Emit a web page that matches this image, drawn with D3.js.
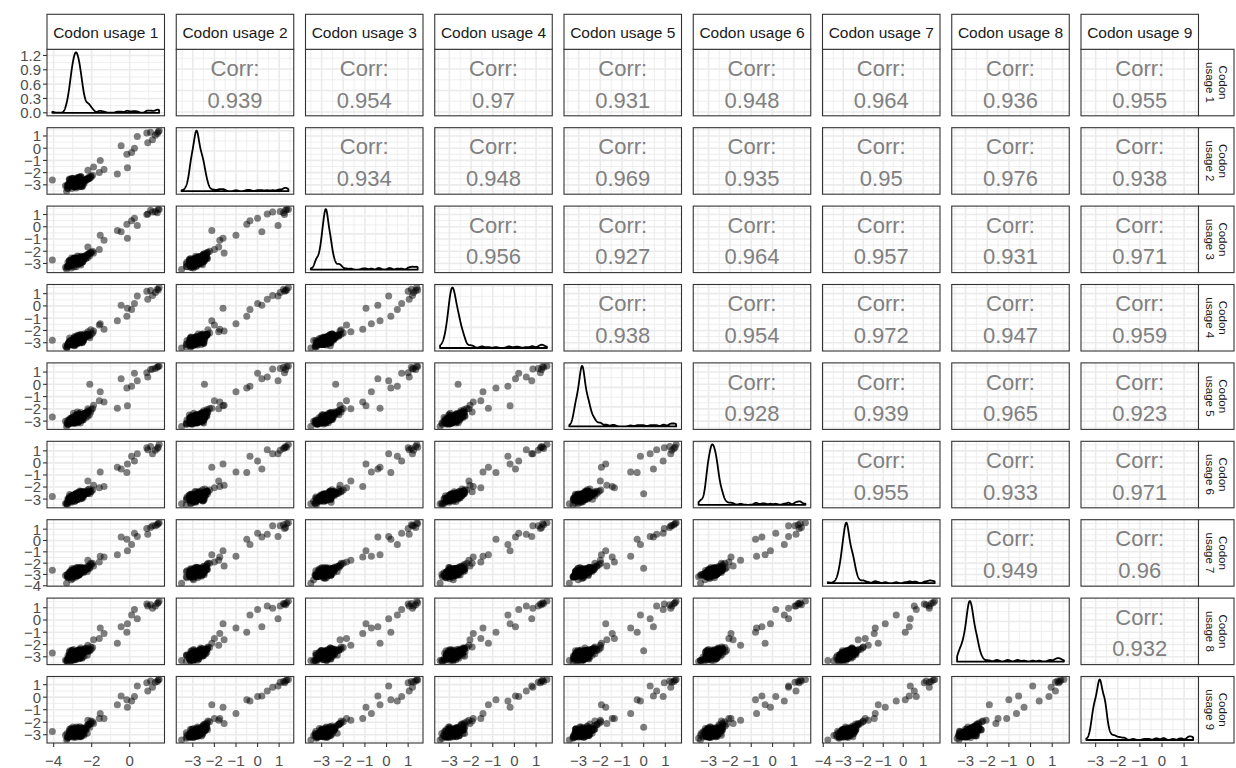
<!DOCTYPE html>
<html>
<head>
<meta charset="utf-8">
<script src="https://cdn.jsdelivr.net/npm/d3@7"></script>
<style>
  body { margin: 0; background: #fff; }
  svg text { font-family: "Liberation Sans", Arial, Helvetica, sans-serif; }
</style>
</head>
<body>
<svg id="chart" width="1236" height="768"></svg>
<script>
// ---- data: log codon usage per codon, one array per sample ----
const variableNames = ["Codon usage 1", "Codon usage 2", "Codon usage 3", "Codon usage 4", "Codon usage 5",
                       "Codon usage 6", "Codon usage 7", "Codon usage 8", "Codon usage 9"];

const usage1 = [-2.70,-2.55,-3.10,-2.42,-3.25,-2.60,-2.30,-3.02,-3.38,-2.85,
  -2.52,-2.78,-2.20,-2.98,-2.88,-2.68,-2.64,-3.14,-2.82,-2.18,
  -3.04,-2.50,-3.26,-2.92,-2.58,-2.62,-3.08,-2.72,-2.74,-3.32,
  -2.84,-2.40,-2.96,-2.90,-2.78,-2.12,-2.78,-2.90,-2.48,-3.08,
  -2.72,-2.62,-3.20,-2.59,-2.69,-2.76,-2.02,-2.92,-2.86,-2.77,
  -2.99,-2.30,-2.85,-3.28,-2.57,-2.93,-2.41,-3.05,-1.95,-4.07,
  -2.65,-3.05,-2.80,-2.60,-3.12,-2.45,-2.98,-3.22,-2.58,-2.34,
  -2.75,-2.92,-2.92,-2.74,-2.70,-2.66,-3.06,-2.56,-2.25,-2.99,
  -2.63,-3.18,-2.49,-2.90,-2.84,-2.62,-2.70,-2.79,-3.10,-2.14,
  -2.66,-3.02,-2.70,-2.73,-2.84,-3.24,-2.52,-2.98,-2.55,-2.66,
  -2.05,-1.90,-2.20,-1.60,-1.35,-1.55,-0.65,-0.12,-0.15,-0.45,0.10,0.25,0.40,0.95,1.20,0.90,1.35,1.10,1.45,1.50,1.55,-2.10,
  -2.70,-2.90,-3.00,-3.10,-2.40,-3.05,-2.70,-3.30,-2.40,-2.93,
  -3.03,-2.90,-2.47,-2.75,-2.92,-2.66,-3.02,-2.87,-2.94,-2.51,
  -3.16,-2.63,-2.60,-3.05,-2.98,-2.79,-2.67,-3.18,-2.47,-3.08,
  -2.54,-3.06,-2.68,-2.84,-3.15,-2.56,-3.14,-2.51,-2.82,-2.74,
  -3.07,-2.96,-2.66,-3.03,-2.23,-3.04,-2.89,-2.90,-2.63,-2.99,
  -2.82,-2.87,-2.44,-3.16,-2.68,-3.06,-3.00,-2.57,-2.83,-2.90,
  -2.82,-2.78,-2.88,-2.75,-2.85,-2.80,-2.90,-2.77,-2.84,-2.79,-2.86,-2.81,-2.74,-2.87];

const usage2 = [-3.02,-2.84,-2.82,-2.73,-3.28,-2.88,-2.64,-2.74,-3.08,-2.60,
  -2.78,-3.07,-2.55,-2.72,-3.15,-2.44,-2.86,-2.86,-2.58,-2.50,
  -2.79,-2.76,-2.98,-2.70,-2.32,-2.86,-2.84,-2.45,-2.98,-3.52,
  -2.57,-2.64,-2.71,-3.16,-2.54,-2.44,-3.03,-2.66,-2.73,-2.82,
  -2.96,-2.35,-2.96,-2.83,-2.44,-3.00,-2.34,-2.67,-3.12,-2.52,
  -2.75,-2.55,-2.61,-3.30,-2.81,-2.69,-2.65,-2.82,-2.22,-2.60,
  -2.95,-2.78,-2.55,-2.88,-2.90,-2.70,-2.76,-3.05,-2.82,-2.58,
  -2.99,-2.65,-3.14,-2.50,-2.92,-2.43,-2.85,-2.79,-2.50,-2.80,
  -2.85,-2.99,-2.71,-2.70,-3.04,-2.42,-2.92,-2.59,-2.93,-2.36,
  -2.88,-2.83,-2.50,-2.94,-2.64,-3.06,-2.74,-2.81,-2.36,-2.84,
  -2.30,-1.55,-1.80,-2.00,-1.75,-1.00,-2.12,-1.60,-0.50,0.20,-0.35,0.00,0.95,0.45,0.70,1.25,1.05,1.30,1.20,1.35,1.43,-2.46,
  -2.70,-3.05,-3.00,-2.55,-2.75,-3.30,-2.70,-3.10,-2.90,-2.58,
  -2.93,-2.90,-3.07,-2.40,-2.97,-3.16,-2.47,-3.12,-2.79,-2.96,
  -2.61,-2.83,-2.80,-3.05,-2.93,-2.79,-3.07,-2.53,-2.72,-2.78,
  -3.09,-2.86,-2.88,-3.09,-2.60,-2.86,-2.84,-3.16,-2.57,-2.99,
  -2.97,-2.96,-2.56,-3.08,-2.53,-3.04,-2.74,-2.85,-2.88,-2.49,
  -3.27,-2.72,-2.69,-3.11,-2.63,-3.11,-2.50,-3.12,-2.63,-3.10,
  -2.85,-2.92,-2.76,-2.88,-2.80,-2.95,-2.83,-2.78,-2.90,-2.86,-2.74,-2.89,-2.82,-2.79];

const usage3 = [-2.81,-2.92,-3.18,-2.45,-2.90,-2.95,-2.60,-3.00,-3.30,-2.68,
  -2.50,-2.86,-2.52,-2.70,-3.12,-2.70,-2.62,-3.06,-2.79,-2.22,
  -2.99,-2.72,-3.22,-2.66,-2.60,-2.84,-3.07,-2.67,-2.76,-3.50,
  -2.81,-2.42,-2.93,-2.94,-2.77,-2.20,-2.80,-2.88,-2.50,-3.06,
  -2.74,-2.60,-3.21,-2.82,-2.45,-2.99,-2.10,-2.91,-2.88,-2.76,
  -2.76,-2.53,-2.62,-3.24,-2.80,-2.70,-2.64,-2.81,-2.00,-2.72,
  -2.90,-2.85,-2.60,-2.84,-3.05,-2.52,-2.79,-3.18,-2.66,-2.40,
  -2.94,-2.73,-3.00,-2.68,-2.88,-2.58,-2.98,-2.64,-2.31,-2.91,
  -2.79,-3.12,-2.57,-2.83,-2.90,-2.55,-2.77,-2.72,-3.05,-2.20,
  -2.84,-2.95,-2.63,-2.80,-2.77,-3.20,-2.60,-2.92,-2.48,-2.72,
  -2.10,-2.15,-1.65,-1.85,-1.10,-0.70,-0.30,-0.95,0.20,-0.40,0.50,0.70,0.10,1.05,1.20,1.00,1.25,1.35,1.15,1.44,1.40,-2.35,
  -3.05,-2.75,-2.85,-3.10,-2.50,-3.05,-2.60,-3.30,-2.65,-2.58,
  -3.03,-2.90,-2.87,-2.40,-3.27,-2.71,-2.82,-2.77,-2.99,-2.71,
  -2.76,-2.98,-2.80,-3.00,-2.78,-2.79,-2.72,-2.78,-2.87,-2.78,
  -2.89,-2.56,-2.93,-2.94,-3.00,-2.41,-3.24,-2.66,-2.82,-2.69,
  -3.37,-2.61,-2.86,-3.13,-2.28,-2.94,-2.94,-2.55,-3.03,-2.64,
  -3.27,-2.57,-2.74,-2.76,-2.98,-2.76,-2.85,-3.12,-2.63,-2.60,
  -2.79,-2.86,-2.91,-2.74,-2.88,-2.82,-2.77,-2.93,-2.80,-2.85,-2.90,-2.76,-2.87,-2.83];

const usage4 = [-2.96,-2.61,-2.88,-2.78,-3.14,-2.70,-2.38,-2.80,-3.26,-2.90,
  -2.74,-3.10,-2.28,-2.95,-2.90,-2.45,-2.88,-3.13,-2.55,-2.47,
  -2.81,-2.52,-3.20,-2.90,-2.33,-2.66,-3.12,-2.47,-2.97,-3.43,
  -2.60,-2.65,-2.70,-3.15,-2.56,-2.42,-3.02,-2.68,-2.71,-2.84,
  -2.95,-2.37,-2.97,-2.60,-2.68,-2.77,-2.32,-2.68,-3.11,-2.53,
  -2.98,-2.31,-2.84,-3.33,-2.58,-2.92,-2.42,-3.04,-2.20,-2.80,
  -2.68,-3.00,-2.78,-2.63,-2.86,-2.69,-2.95,-3.02,-2.80,-2.55,
  -2.82,-2.86,-3.12,-2.54,-2.77,-2.50,-2.90,-2.76,-2.46,-2.83,
  -2.70,-3.04,-2.68,-2.74,-3.01,-2.48,-2.89,-2.63,-2.97,-2.33,
  -2.75,-2.88,-2.55,-2.92,-2.68,-3.10,-2.71,-2.85,-2.40,-2.81,
  -1.95,-2.05,-2.10,-1.55,-1.90,-1.45,-1.20,-0.20,-0.85,0.05,-0.30,0.20,0.80,0.55,0.85,1.20,1.10,1.25,1.35,1.30,1.50,-2.60,
  -2.65,-2.85,-3.00,-3.00,-2.30,-3.10,-2.75,-3.35,-2.55,-2.93,
  -2.98,-2.70,-2.92,-2.40,-3.22,-2.81,-2.87,-3.07,-2.59,-2.96,
  -2.86,-3.03,-2.70,-2.90,-2.93,-2.99,-2.57,-2.98,-2.57,-3.18,
  -2.54,-3.01,-2.73,-2.84,-3.15,-2.56,-2.99,-3.01,-2.62,-2.94,
  -2.82,-2.96,-2.76,-3.08,-2.38,-3.14,-2.94,-2.50,-2.98,-3.04,
  -2.82,-2.82,-2.84,-2.61,-2.93,-2.96,-3.05,-2.67,-2.78,-3.25,
  -2.80,-2.74,-2.87,-2.92,-2.78,-2.84,-2.89,-2.81,-2.75,-2.90,-2.83,-2.86,-2.79,-2.77];

const usage5 = [-2.74,-2.49,-3.12,-2.66,-3.24,-2.58,-2.71,-3.06,-3.02,-2.80,
  -2.86,-2.82,-2.60,-2.76,-3.20,-2.40,-2.93,-2.88,-2.76,-2.15,
  -3.08,-2.70,-2.96,-2.95,-2.30,-2.88,-2.85,-2.70,-2.72,-3.43,
  -2.80,-2.38,-2.98,-3.13,-2.52,-2.48,-2.79,-2.87,-2.74,-3.05,
  -2.71,-2.61,-3.22,-2.84,-2.43,-3.01,-2.05,-2.93,-2.87,-2.52,
  -3.00,-2.29,-2.60,-3.26,-2.82,-2.94,-2.40,-2.81,-1.98,-2.66,
  -2.98,-2.80,-2.62,-2.90,-3.10,-2.47,-2.73,-3.25,-2.64,-2.36,
  -3.00,-2.70,-2.95,-2.72,-2.91,-2.64,-3.03,-2.60,-2.27,-2.96,
  -2.84,-3.15,-2.53,-2.88,-2.87,-2.60,-2.74,-2.77,-3.08,-2.17,
  -2.86,-3.00,-2.68,-2.77,-2.82,-3.22,-2.56,-2.96,-2.52,-2.69,
  -2.25,-1.70,-2.00,-1.35,-1.45,-0.60,-1.95,-1.75,-0.30,0.45,-0.15,0.90,0.30,0.60,1.25,0.95,1.30,1.20,1.40,1.45,1.50,0.00,
  -3.05,-2.70,-2.85,-3.10,-2.55,-3.15,-2.55,-3.15,-2.55,-2.83,
  -3.03,-2.80,-2.92,-2.25,-3.12,-2.76,-2.87,-2.77,-3.14,-2.61,
  -3.01,-2.48,-3.15,-2.70,-3.08,-2.94,-2.57,-2.93,-2.57,-2.78,
  -2.94,-2.86,-3.03,-2.79,-2.95,-2.51,-3.14,-2.51,-2.82,-3.14,
  -3.02,-2.36,-3.01,-2.93,-2.38,-3.14,-2.84,-2.85,-2.63,-2.89,
  -2.92,-2.52,-2.89,-2.81,-2.83,-2.86,-3.15,-2.72,-2.83,-2.70,
  -2.88,-2.81,-2.79,-2.85,-2.93,-2.76,-2.84,-2.90,-2.82,-2.77,-2.87,-2.80,-2.91,-2.78];

const usage6 = [-2.62,-2.83,-3.03,-2.40,-2.96,-3.00,-2.35,-2.76,-3.37,-2.55,
  -2.58,-3.04,-2.22,-2.93,-2.86,-2.72,-2.67,-3.17,-2.62,-2.52,
  -2.77,-2.78,-3.27,-2.68,-2.56,-2.60,-3.10,-2.44,-3.01,-3.38,
  -2.86,-2.62,-2.72,-2.88,-2.80,-2.16,-3.05,-2.64,-2.49,-3.09,
  -2.97,-2.33,-2.95,-2.61,-2.67,-2.78,-2.35,-2.66,-3.13,-2.77,
  -2.75,-2.54,-2.86,-3.47,-2.57,-2.69,-2.66,-3.06,-2.24,-2.78,
  -2.75,-3.04,-2.52,-2.70,-2.95,-2.66,-2.92,-3.08,-2.83,-2.52,
  -2.84,-2.88,-3.10,-2.56,-2.75,-2.47,-2.87,-2.77,-2.48,-2.79,
  -2.66,-2.98,-2.70,-2.72,-3.02,-2.44,-2.90,-2.60,-2.95,-2.35,
  -2.73,-2.86,-2.53,-2.93,-2.66,-3.08,-2.72,-2.83,-2.38,-2.82,
  -2.40,-1.85,-1.50,-2.05,-1.95,-0.75,-0.35,-0.10,-0.80,-0.50,0.55,0.15,0.75,1.10,0.75,1.25,1.05,1.35,1.20,1.30,1.54,-2.55,
  -2.65,-2.95,-2.95,-3.15,-2.45,-3.05,-2.70,-3.35,-2.40,-3.03,
  -2.73,-3.20,-2.57,-2.70,-2.92,-2.66,-3.02,-2.92,-2.89,-2.96,
  -2.81,-2.73,-2.60,-3.05,-2.98,-2.89,-2.67,-3.13,-2.57,-2.73,
  -2.89,-3.26,-2.58,-3.04,-3.05,-2.36,-3.09,-2.71,-3.02,-2.69,
  -3.17,-3.01,-2.61,-3.03,-2.53,-3.04,-2.64,-2.90,-2.78,-2.94,
  -2.82,-2.87,-2.84,-2.61,-2.88,-2.86,-3.10,-2.82,-2.88,-3.00,
  -2.76,-2.89,-2.83,-2.80,-2.86,-2.91,-2.78,-2.84,-2.88,-2.81,-2.75,-2.92,-2.79,-2.85];

const usage7 = [-2.95,-2.66,-2.79,-2.82,-3.30,-2.72,-2.58,-2.98,-3.10,-2.88,
  -2.48,-3.12,-2.50,-2.64,-3.08,-2.63,-2.90,-2.90,-2.83,-2.28,
  -3.02,-2.51,-3.00,-2.88,-2.55,-2.83,-2.86,-2.71,-2.96,-3.77,
  -2.56,-2.68,-2.92,-3.18,-2.75,-2.38,-2.99,-2.91,-2.70,-2.83,
  -2.96,-2.59,-3.19,-2.83,-2.46,-3.00,-2.12,-2.90,-3.10,-2.51,
  -2.77,-2.56,-2.85,-3.21,-2.80,-2.92,-2.42,-3.05,-2.02,-2.62,
  -2.70,-2.96,-2.79,-2.62,-3.08,-2.48,-2.90,-3.20,-2.59,-2.57,
  -2.97,-2.68,-3.09,-2.70,-2.94,-2.60,-3.01,-2.72,-2.33,-2.89,
  -2.82,-3.14,-2.55,-2.86,-2.93,-2.58,-2.79,-2.74,-3.04,-2.22,
  -2.85,-2.97,-2.65,-2.82,-2.79,-3.19,-2.58,-2.94,-2.50,-2.73,
  -2.00,-2.25,-1.75,-1.90,-1.45,-1.40,-1.25,-0.90,0.10,0.30,-0.35,0.65,0.35,0.55,1.30,1.05,1.30,1.15,1.40,1.50,1.57,-2.45,
  -3.05,-2.50,-3.35,-2.65,-2.70,-2.75,-3.10,-3.00,-2.70,-3.08,
  -2.48,-3.10,-2.77,-2.40,-3.07,-2.81,-3.02,-2.77,-2.94,-2.61,
  -3.16,-2.38,-2.95,-3.05,-2.98,-2.39,-3.02,-2.83,-2.42,-3.28,
  -2.64,-3.01,-2.48,-3.24,-2.80,-2.36,-3.19,-2.71,-2.82,-2.69,
  -3.47,-2.56,-2.96,-2.68,-2.73,-2.79,-2.79,-3.05,-2.78,-2.89,
  -2.67,-2.87,-2.49,-2.86,-3.03,-2.86,-2.90,-2.52,-2.93,-2.85,
  -2.84,-2.80,-2.92,-2.78,-2.87,-2.75,-2.90,-2.82,-2.79,-2.88,-2.81,-2.85,-2.93,-2.77];

const usage8 = [-3.05,-2.75,-3.08,-2.51,-2.92,-2.86,-2.28,-2.84,-3.29,-2.62,
  -2.79,-2.83,-2.58,-3.00,-3.16,-2.43,-2.63,-3.10,-2.57,-2.49,
  -2.80,-2.74,-3.24,-2.73,-2.28,-2.90,-3.06,-2.48,-2.75,-3.30,
  -2.83,-2.41,-2.95,-2.92,-2.53,-2.47,-2.77,-2.67,-2.75,-3.07,
  -2.70,-2.63,-2.99,-2.58,-2.70,-2.76,-2.38,-2.69,-2.89,-2.78,
  -2.99,-2.32,-2.61,-3.39,-2.81,-2.70,-2.65,-2.80,-2.25,-2.70,
  -2.96,-2.82,-2.70,-2.86,-2.88,-2.72,-2.77,-3.15,-2.78,-2.39,
  -2.93,-2.83,-2.96,-2.51,-2.87,-2.49,-2.99,-2.61,-2.52,-2.94,
  -2.71,-3.06,-2.67,-2.75,-3.00,-2.46,-2.88,-2.62,-2.98,-2.38,
  -2.76,-2.90,-2.54,-2.91,-2.67,-3.12,-2.70,-2.86,-2.41,-2.80,
  -2.20,-1.60,-2.05,-1.50,-1.10,-0.65,-1.90,-0.30,-1.00,-0.55,0.40,0.85,0.10,1.15,0.95,1.30,1.15,1.25,1.35,1.40,1.54,-2.50,
  -2.65,-2.85,-3.05,-2.60,-2.95,-2.85,-2.90,-3.30,-2.55,-2.93,
  -2.48,-3.25,-2.72,-2.75,-2.72,-3.16,-2.67,-2.77,-2.94,-3.11,
  -2.81,-2.68,-3.10,-2.50,-3.23,-2.64,-3.12,-2.63,-2.67,-3.28,
  -2.54,-3.01,-2.68,-3.24,-2.50,-2.81,-2.84,-3.06,-2.62,-2.94,
  -3.32,-2.41,-2.96,-2.73,-2.88,-2.79,-3.14,-2.80,-2.63,-2.89,
  -2.87,-3.17,-2.44,-3.01,-2.63,-3.31,-2.50,-3.02,-2.68,-3.15,
  -2.87,-2.83,-2.78,-2.91,-2.76,-2.88,-2.81,-2.86,-2.93,-2.79,-2.84,-2.77,-2.89,-2.82];

const usage9 = [-2.78,-2.93,-2.90,-2.70,-3.18,-2.64,-2.62,-3.07,-3.05,-2.79,
  -2.55,-3.01,-2.30,-2.74,-2.94,-2.66,-2.84,-2.85,-2.77,-2.20,
  -2.98,-2.53,-3.19,-2.93,-2.61,-2.64,-3.13,-2.68,-3.00,-3.42,
  -2.59,-2.63,-2.69,-3.14,-2.78,-2.14,-3.04,-2.86,-2.47,-2.81,
  -2.95,-2.36,-3.21,-2.84,-2.44,-3.01,-2.06,-2.92,-3.12,-2.53,
  -2.74,-2.55,-2.62,-3.29,-2.58,-2.93,-2.66,-2.82,-1.97,-2.75,
  -2.85,-3.02,-2.57,-2.80,-3.03,-2.55,-2.89,-3.10,-2.68,-2.50,
  -2.80,-2.74,-3.11,-2.69,-2.79,-2.63,-2.88,-2.78,-2.29,-2.82,
  -2.77,-3.13,-2.59,-2.81,-2.91,-2.57,-2.76,-2.73,-3.06,-2.19,
  -2.83,-2.94,-2.62,-2.79,-2.76,-3.18,-2.61,-2.90,-2.47,-2.71,
  -1.90,-2.10,-1.85,-1.70,-1.70,-1.30,-0.60,-0.80,-0.20,0.10,-0.30,0.05,0.90,0.50,0.80,1.15,1.20,1.30,1.25,1.38,1.41,-2.40,
  -2.65,-2.95,-3.00,-2.50,-2.90,-2.85,-2.90,-2.90,-3.05,-2.73,
  -2.88,-2.75,-2.97,-2.55,-2.72,-3.16,-2.62,-3.22,-2.54,-2.81,
  -2.81,-2.63,-3.15,-2.60,-3.18,-2.39,-3.07,-2.73,-2.77,-2.73,
  -3.09,-2.76,-2.78,-2.84,-3.10,-2.56,-2.94,-3.01,-2.47,-2.99,
  -3.07,-2.51,-3.01,-2.88,-2.88,-2.59,-3.09,-2.60,-3.08,-2.39,
  -3.02,-3.07,-2.54,-2.56,-2.93,-3.06,-2.60,-3.17,-2.58,-3.05,
  -2.81,-2.90,-2.85,-2.77,-2.83,-2.79,-2.88,-2.75,-2.86,-2.92,-2.80,-2.84,-2.78,-2.89];

// Pearson correlations for the upper triangle, row by row
const corrRow1 = [0.939, 0.954, 0.97, 0.931, 0.948, 0.964, 0.936, 0.955];
const corrRow2 = [0.934, 0.948, 0.969, 0.935, 0.95, 0.976, 0.938];
const corrRow3 = [0.956, 0.927, 0.964, 0.957, 0.931, 0.971];
const corrRow4 = [0.938, 0.954, 0.972, 0.947, 0.959];
const corrRow5 = [0.928, 0.939, 0.965, 0.923];
const corrRow6 = [0.955, 0.933, 0.971];
const corrRow7 = [0.949, 0.96];
const corrRow8 = [0.932];

// axis breaks for each variable and for the first density panel
const breaks1 = [-4, -2, 0];
const breaksStd = [-3, -2, -1, 0, 1];
const breaks7 = [-4, -3, -2, -1, 0, 1];
const densityBreaks = [0, 0.3, 0.6, 0.9, 1.2];

// ---- layout ----
const series = [usage1, usage2, usage3, usage4, usage5, usage6, usage7, usage8, usage9];
const corrRows = [corrRow1, corrRow2, corrRow3, corrRow4, corrRow5, corrRow6, corrRow7, corrRow8];
const varBreaks = [breaks1, breaksStd, breaksStd, breaksStd, breaksStd, breaksStd, breaks7, breaksStd, breaksStd];
const N = series.length;
const gridLeft = 47, gridTop = 49.3, panelW = 117.5, panelH = 66.5, colStep = 129.25, rowStep = 78.4;
const stripTop = 14.3, stripRightW = 35.5;

const svg = d3.select("#chart");
const fmtInt = d3.format("d");
const fmtDens = d3.format(".1f");

function expanded(values) {
  const [a, b] = d3.extent(values);
  const pad = (b - a) * 0.05;
  return [a - pad, b + pad];
}

const xScales = series.map((v, j) =>
  d3.scaleLinear().domain(expanded(v)).range([gridLeft + j * colStep, gridLeft + j * colStep + panelW]));
const yScales = series.map((v, i) =>
  d3.scaleLinear().domain(expanded(v)).range([gridTop + i * rowStep + panelH, gridTop + i * rowStep]));

// Gaussian kernel density with the nrd0 bandwidth, evaluated over the data range
function density(values) {
  const n = values.length;
  const sd = d3.deviation(values);
  const iqr = d3.quantile(values, 0.75) - d3.quantile(values, 0.25);
  const bw = 0.9 * Math.min(sd, iqr / 1.34) * Math.pow(n, -0.2);
  const [lo, hi] = d3.extent(values);
  const norm = 1 / (n * bw * Math.sqrt(2 * Math.PI));
  return d3.range(512).map(k => {
    const x = lo + (hi - lo) * k / 511;
    const y = d3.sum(values, v => Math.exp(-0.5 * ((x - v) / bw) ** 2)) * norm;
    return [x, y];
  });
}

function minorBreaks(br, domain) {
  if (br.length < 2) return [];
  const step = br[1] - br[0];
  const out = [];
  for (let k = -1; k < br.length; k++) {
    const m = br[0] + step * (k + 0.5);
    if (m >= domain[0] && m <= domain[1]) out.push(m);
  }
  return out;
}

const densities = series.map(density);
const defs = svg.append("defs");
const gridColor = "#ebebeb";

function densityScale(i) {
  const peak = d3.max(densities[i], d => d[1]);
  const y0 = gridTop + i * rowStep;
  return d3.scaleLinear().domain([-0.05 * peak, 1.05 * peak]).range([y0 + panelH, y0]);
}

for (let i = 0; i < N; i++) {
  for (let j = 0; j < N; j++) {
    const xs = xScales[j];
    const x0 = xs.range()[0], y0 = gridTop + i * rowStep;
    let ys, yBr;
    if (i === j) {
      ys = densityScale(i);
      yBr = i === 0 ? densityBreaks : ys.ticks(4);
    } else {
      ys = yScales[i];
      yBr = varBreaks[i];
    }
    const xBr = varBreaks[j];

    const clipId = `clip-${i}-${j}`;
    defs.append("clipPath").attr("id", clipId)
      .append("rect").attr("x", x0).attr("y", y0).attr("width", panelW).attr("height", panelH);

    const g = svg.append("g");
    g.append("rect").attr("x", x0).attr("y", y0).attr("width", panelW).attr("height", panelH).attr("fill", "#fff");

    const grid = g.append("g").attr("clip-path", `url(#${clipId})`);
    const yInside = yBr.filter(b => b >= ys.domain()[0] && b <= ys.domain()[1]);
    const xInside = xBr.filter(b => b >= xs.domain()[0] && b <= xs.domain()[1]);
    // minor grid
    grid.selectAll(".vminor").data(minorBreaks(xBr, xs.domain())).join("line")
      .attr("x1", d => xs(d)).attr("x2", d => xs(d)).attr("y1", y0).attr("y2", y0 + panelH)
      .attr("stroke", gridColor).attr("stroke-width", 0.8);
    grid.selectAll(".hminor").data(minorBreaks(yBr, ys.domain())).join("line")
      .attr("y1", d => ys(d)).attr("y2", d => ys(d)).attr("x1", x0).attr("x2", x0 + panelW)
      .attr("stroke", gridColor).attr("stroke-width", 0.8);
    // major grid
    grid.selectAll(".vmajor").data(xInside).join("line")
      .attr("x1", d => xs(d)).attr("x2", d => xs(d)).attr("y1", y0).attr("y2", y0 + panelH)
      .attr("stroke", gridColor).attr("stroke-width", 1.6);
    grid.selectAll(".hmajor").data(yInside).join("line")
      .attr("y1", d => ys(d)).attr("y2", d => ys(d)).attr("x1", x0).attr("x2", x0 + panelW)
      .attr("stroke", gridColor).attr("stroke-width", 1.6);

    const content = g.append("g").attr("clip-path", `url(#${clipId})`);
    if (i === j) {
      const dens = densities[i];
      const poly = [[dens[0][0], 0], ...dens, [dens[dens.length - 1][0], 0]];
      const line = d3.line().x(d => xs(d[0])).y(d => ys(d[1]));
      content.append("path").attr("d", line(poly) + "Z")
        .attr("fill", "none").attr("stroke", "#000").attr("stroke-width", 1.8)
        .attr("stroke-linejoin", "round");
    } else if (i > j) {
      const xv = series[j], yv = series[i];
      content.selectAll("circle").data(d3.range(xv.length)).join("circle")
        .attr("cx", k => xs(xv[k])).attr("cy", k => ys(yv[k])).attr("r", 3.5)
        .attr("fill", "#000").attr("fill-opacity", 0.5);
    } else {
      const cx = x0 + panelW / 2;
      const value = corrRows[i][j - i - 1];
      content.append("text").attr("x", cx).attr("y", y0 + 26.7).attr("text-anchor", "middle")
        .attr("font-size", 22).attr("fill", "#808080").text("Corr:");
      content.append("text").attr("x", cx).attr("y", y0 + 58.2).attr("text-anchor", "middle")
        .attr("font-size", 22).attr("fill", "#808080").text(String(value));
    }

    g.append("rect").attr("x", x0).attr("y", y0).attr("width", panelW).attr("height", panelH)
      .attr("fill", "none").attr("stroke", "#333").attr("stroke-width", 1.1);
  }
}

// top strips
variableNames.forEach((name, j) => {
  const x0 = gridLeft + j * colStep;
  svg.append("rect").attr("x", x0).attr("y", stripTop).attr("width", panelW).attr("height", gridTop - stripTop)
    .attr("fill", "#fff").attr("stroke", "#333").attr("stroke-width", 1.1);
  svg.append("text").attr("x", x0 + panelW / 2).attr("y", stripTop + 24).attr("text-anchor", "middle")
    .attr("font-size", 15.5).attr("fill", "#1a1a1a").text(name);
});

// right strips, text rotated to read downwards
variableNames.forEach((name, i) => {
  const y0 = gridTop + i * rowStep;
  const x0 = gridLeft + (N - 1) * colStep + panelW;
  svg.append("rect").attr("x", x0).attr("y", y0).attr("width", stripRightW).attr("height", panelH)
    .attr("fill", "#fff").attr("stroke", "#333").attr("stroke-width", 1.1);
  const words = name.split(" ");
  const lines = [words[0], words.slice(1).join(" ")];
  const t = svg.append("text")
    .attr("transform", `translate(${x0 + stripRightW / 2},${y0 + panelH / 2}) rotate(90)`)
    .attr("text-anchor", "middle").attr("font-size", 11.5).attr("fill", "#1a1a1a");
  t.append("tspan").attr("x", 0).attr("y", -3.2).text(lines[0]);
  t.append("tspan").attr("x", 0).attr("y", 10.3).text(lines[1]);
});

// left axes
const axisColor = "#4d4d4d";
for (let i = 0; i < N; i++) {
  const ys = i === 0 ? densityScale(0) : yScales[i];
  const br = i === 0 ? densityBreaks : varBreaks[i];
  const fmt = i === 0 ? fmtDens : fmtInt;
  const ax = svg.append("g");
  br.filter(b => b >= ys.domain()[0] - 1e-9 && b <= ys.domain()[1] + 0.02).forEach(b => {
    const y = ys(b);
    ax.append("line").attr("x1", gridLeft - 4).attr("x2", gridLeft).attr("y1", y).attr("y2", y)
      .attr("stroke", "#333").attr("stroke-width", 1.1);
    ax.append("text").attr("x", gridLeft - 6).attr("y", y).attr("dy", "0.36em").attr("text-anchor", "end")
      .attr("font-size", 15).attr("fill", axisColor).text(fmt(b));
  });
}

// bottom axes
const gridBottom = gridTop + (N - 1) * rowStep + panelH;
for (let j = 0; j < N; j++) {
  const xs = xScales[j];
  const ax = svg.append("g");
  varBreaks[j].filter(b => b >= xs.domain()[0] && b <= xs.domain()[1]).forEach(b => {
    const x = xs(b);
    ax.append("line").attr("x1", x).attr("x2", x).attr("y1", gridBottom).attr("y2", gridBottom + 4)
      .attr("stroke", "#333").attr("stroke-width", 1.1);
    ax.append("text").attr("x", x).attr("y", gridBottom + 22.5).attr("text-anchor", "middle")
      .attr("font-size", 15).attr("fill", axisColor).text(fmtInt(b));
  });
}
</script>
</body>
</html>
